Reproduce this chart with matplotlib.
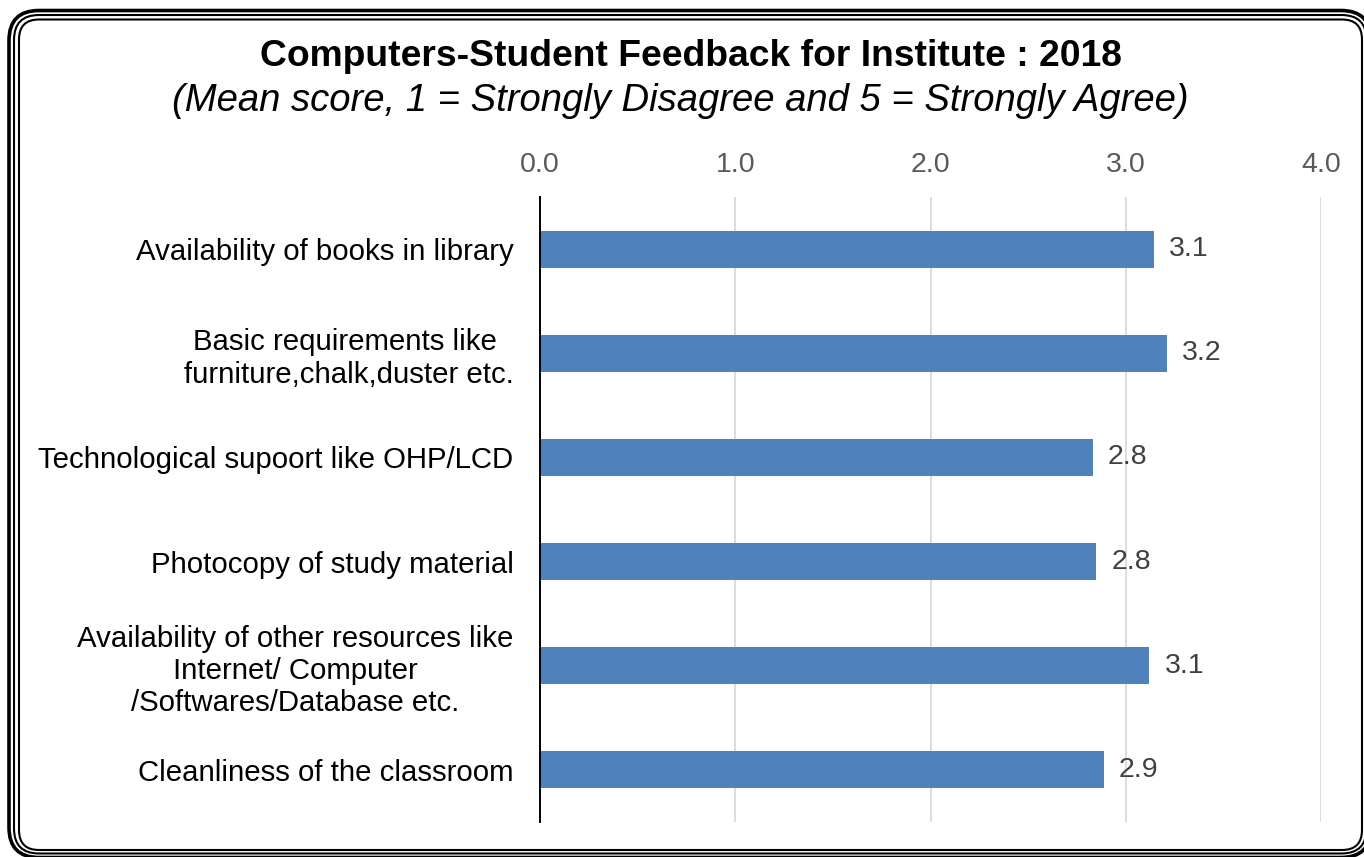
import matplotlib.pyplot as plt
from matplotlib.patches import FancyBboxPatch
from matplotlib.transforms import IdentityTransform

plt.rcParams['font.family'] = ['Liberation Sans', 'DejaVu Sans']

# Data
categories = [
    "Availability of books in library",
    "Basic requirements like \nfurniture,chalk,duster etc.",
    "Technological supoort like OHP/LCD",
    "Photocopy of study material",
    "Availability of other resources like\nInternet/ Computer\n/Softwares/Database etc.",
    "Cleanliness of the classroom",
]
scores = [3.145, 3.21, 2.83, 2.848, 3.12, 2.887]
xticks = [0.0, 1.0, 2.0, 3.0, 4.0]

W, H = 1364, 857
fig = plt.figure(figsize=(W / 100, H / 100), dpi=100)
ax = fig.add_axes([540 / W, 1 - 822 / H, (1321 - 540) / W, (822 - 197) / H])

y = list(range(len(categories)))
bars = ax.barh(y, scores, height=0.355, color='#4f81bd', zorder=3)
ax.bar_label(bars, labels=[f'{v:.1f}' for v in scores], padding=11,
             fontsize=20.5, color='#404040')

ax.set_ylim(len(categories) - 0.5, -0.5)
ax.set_xlim(0, 4.0)
ax.set_xticks(xticks)
ax.set_xticklabels([f'{t:.1f}' for t in xticks])
ax.xaxis.tick_top()
ax.tick_params(axis='x', length=0, pad=13.5, labelsize=20.5, labelcolor='#595959')
ax.set_yticks(y)
ax.set_yticklabels(categories, fontsize=21.2, multialignment='center',
                   linespacing=1.2)
ax.tick_params(axis='y', length=0, pad=19)
ax.grid(axis='x', color='#d9d9d9', linewidth=1.3, zorder=0)
for s in ['top', 'right', 'bottom']:
    ax.spines[s].set_visible(False)
ax.spines['left'].set_linewidth(1.4)
ax.spines['left'].set_zorder(4)

fig.text(691 / W, 1 - 57 / H, 'Computers-Student Feedback for Institute : 2018',
         ha='center', va='center', fontsize=26.8, fontweight='bold')
fig.text(680 / W, 1 - 101 / H,
         '(Mean score, 1 = Strongly Disagree and 5 = Strongly Agree)',
         ha='center', va='center', fontsize=27.5, style='italic')

# triple rounded frame, in pixel coords (left, right, top, bottom from top-left)
frames = [(9, 1371, 10.5, 857.5, 2.6, 30),
          (14, 1366.5, 15, 853.5, 1.5, 25),
          (19, 1362, 19.5, 850, 1.5, 20)]
for left, right, top, bottom, lw, rad in frames:
    box = FancyBboxPatch((left, H - bottom), right - left, bottom - top,
                         boxstyle=f'round,pad=0,rounding_size={rad}',
                         facecolor='white', edgecolor='black', linewidth=lw,
                         transform=IdentityTransform(), zorder=-1)
    fig.add_artist(box)

fig.savefig('out.png', dpi=100)
